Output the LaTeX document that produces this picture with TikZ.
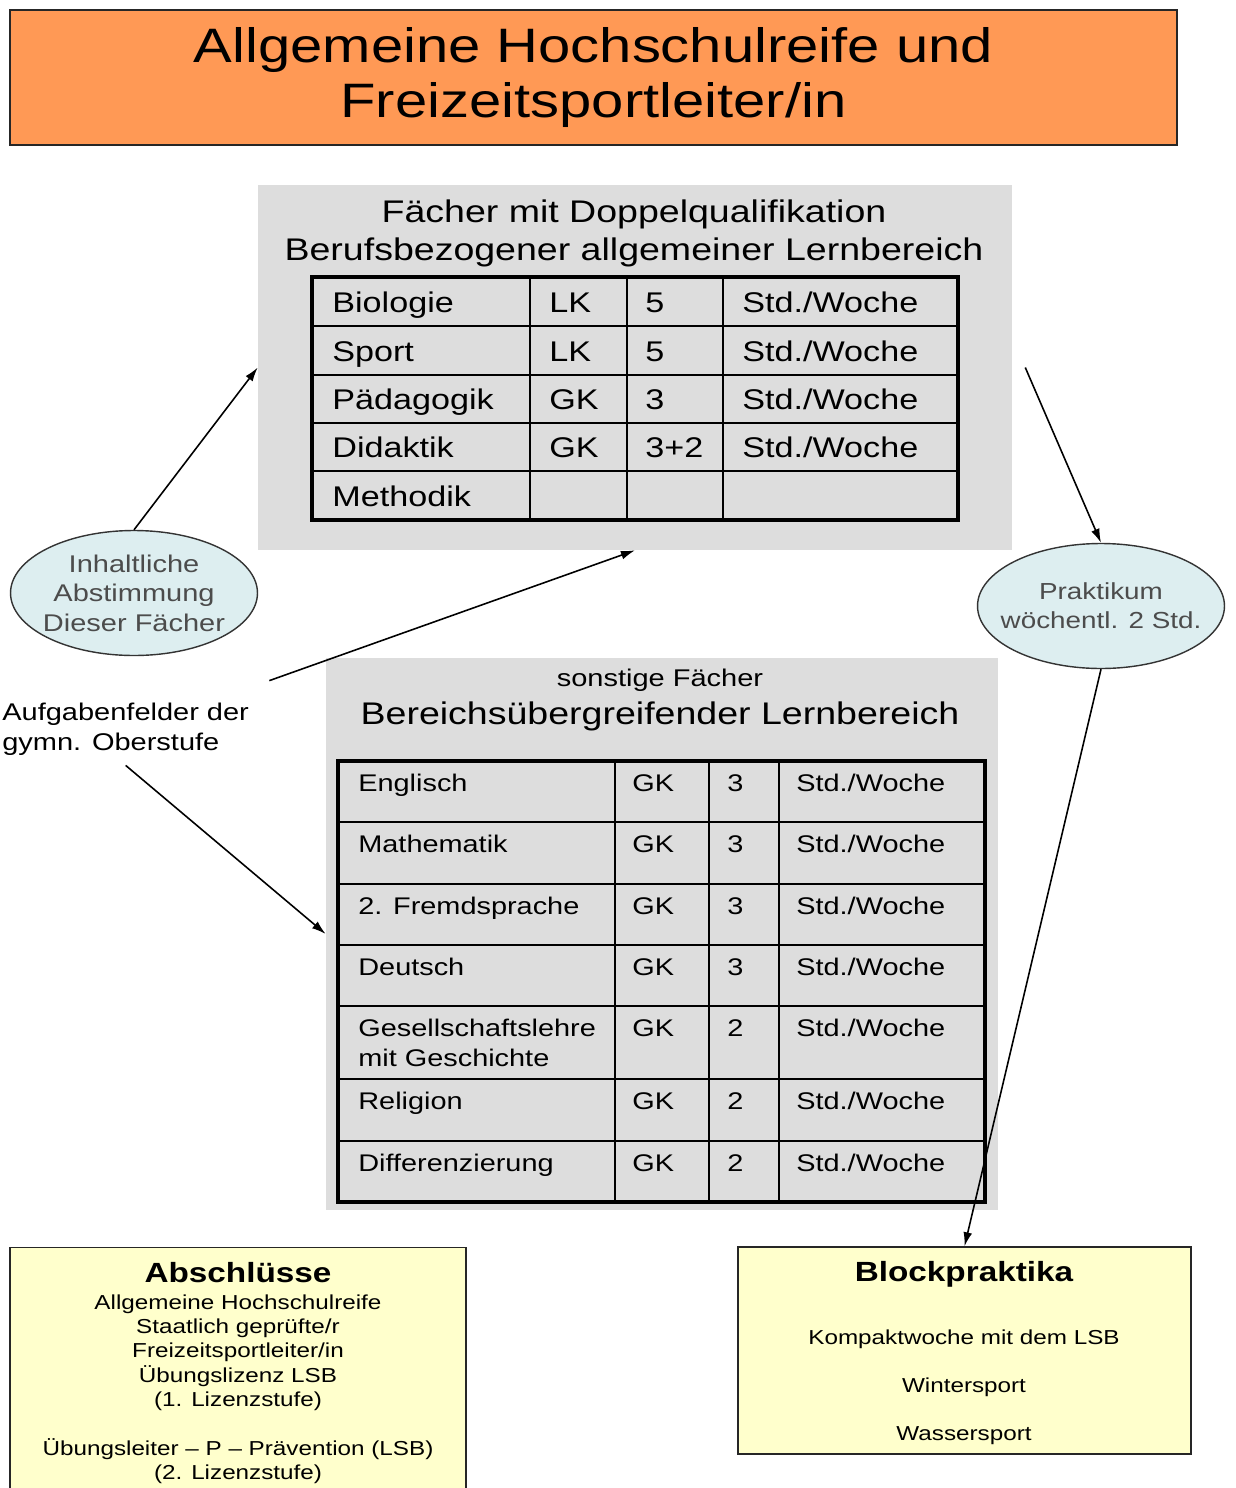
\documentclass[tikz,border=0pt]{standalone}
\usepackage{fontspec}
\setmainfont[FakeStretch=1.2]{Liberation Sans}
\usepackage{xcolor}
\usetikzlibrary{arrows.meta,positioning,shapes.geometric}
\definecolor{titelorange}{RGB}{255,153,85}
\definecolor{grau}{RGB}{221,221,221}
\definecolor{hellblau}{RGB}{221,238,240}
\definecolor{hellgelb}{RGB}{255,255,204}

\begin{document}
\begin{tikzpicture}[
  x=0.02cm, y=-0.02cm,
  >={Latex[length=8pt,width=5pt]},
  every node/.style={inner sep=0pt},
  pfeil/.style={->, line width=0.9pt},
  feld/.style={fill=grau, draw=none},
  wolke/.style={ellipse, draw=black!80, line width=0.8pt, fill=hellblau, text=black!70, align=center, minimum width=4.94cm, minimum height=2.5cm},
  gelb/.style={draw=black!85, line width=0.8pt, fill=hellgelb},
  zelle/.style={anchor=base west, font=\fontsize{16.2}{19}\selectfont},
  zelleb/.style={anchor=base west, font=\fontsize{13.7}{17}\selectfont},
  klein/.style={font=\fontsize{13.75}{16.8}\selectfont},
  fett/.style={font=\bfseries\fontsize{15.8}{18}\selectfont}
]
\path[use as bounding box, clip] (0,0) rectangle (1235,1488);

% Titel
\node[draw=black!85, line width=0.9pt, fill=titelorange, minimum width=23.34cm, minimum height=2.7cm,
  align=center, font=\fontsize{27.5}{31.3}\selectfont] (titel) at (593.5,77.5)
  {Allgemeine Hochschulreife und\\Freizeitsportleiter/in};

% Faecher mit Doppelqualifikation
\node[feld, minimum width=15.08cm, minimum height=7.3cm] (oben) at (635,367.5) {};
\node[align=center, font=\fontsize{17.8}{21.6}\selectfont] (obentitel) at (634,233)
  {Fächer mit Doppelqualifikation\\Berufsbezogener allgemeiner Lernbereich};

\foreach \y in {326,375,423,471} \draw[line width=1.1pt] (312,\y) -- (958,\y);
\foreach \x in {530,627,723} \draw[line width=1.1pt] (\x,277) -- (\x,520);
\draw[line width=2.4pt] (312,277) rectangle (958,520);

\foreach \y/\fach/\kurs/\std [count=\i] in {312/Biologie/LK/5, 361/Sport/LK/5, 409/Pädagogik/GK/3, 457/Didaktik/GK/3+2} {
  \node[zelle] (a\i) at (332,\y) {\fach};
  \node[zelle] (b\i) at (549,\y) {\kurs};
  \node[zelle] (c\i) at (645,\y) {\std};
  \node[zelle] (d\i) at (742,\y) {Std./Woche};
}
\node[zelle] (a5) at (332,506) {Methodik};

% sonstige Faecher
\node[feld, minimum width=13.44cm, minimum height=11.04cm] (unten) at (662,934) {};
\node[klein] (untenklein) at (660,680) {sonstige Fächer};
\node[font=\fontsize{17.8}{21}\selectfont] (untentitel) at (660,716) {Bereichsübergreifender Lernbereich};

\foreach \y in {822,884,945,1006,1079,1141} \draw[line width=1.1pt] (338,\y) -- (985,\y);
\foreach \x in {615,709,779} \draw[line width=1.1pt] (\x,761) -- (\x,1202);
\draw[line width=2.4pt] (338,761) rectangle (985,1202);

\foreach \y/\fach/\std [count=\i] in {791/Englisch/3, 852/Mathematik/3, 914/2. Fremdsprache/3, 975/Deutsch/3,
    1036/Gesellschaftslehre/2, 1109/Religion/2, 1171/Differenzierung/2} {
  \node[zelleb] (e\i) at (358,\y) {\fach};
  \node[zelleb] (f\i) at (632,\y) {GK};
  \node[zelleb] (g\i) at (727,\y) {\std};
  \node[zelleb] (h\i) at (796,\y) {Std./Woche};
}
\node[zelleb] (e5b) at (358,1066) {mit Geschichte};

% Ellipsen und Beschriftung
\node[wolke, klein, inner xsep=-3pt] (inhalt) at (134,593) {Inhaltliche\\Abstimmung\\Dieser Fächer};
\node[wolke, inner xsep=-8.5pt, font=\fontsize{13.2}{16.5}\selectfont] (prak) at (1101,606) {Praktikum\\wöchentl. 2 Std.};
\node[klein, align=left, anchor=west] (aufg) at (2,729) {Aufgabenfelder der\\gymn. Oberstufe};

% Abschluesse und Blockpraktika
\node[gelb, minimum width=9.12cm, minimum height=5.4cm, anchor=north] (abschl) at (238,1247) {};
\node[fett] (abschltitel) at (238,1273) {Abschlüsse};
\node[align=center, anchor=north, font=\fontsize{11.5}{13.9}\selectfont] (abschltext) at (238,1294)
  {Allgemeine Hochschulreife\\Staatlich geprüfte/r\\Freizeitsportleiter/in\\Übungslizenz LSB\\(1. Lizenzstufe)\\[13.9pt]
   Übungsleiter -- P -- Prävention (LSB)\\(2. Lizenzstufe)};

\node[gelb, minimum width=9.06cm, minimum height=4.14cm] (block) at (964.5,1350.5) {};
\node[fett] (blocktitel) at (964,1274) {Blockpraktika};
\node[align=center, anchor=north, font=\fontsize{11.5}{13.9}\selectfont] (blocktext) at (964,1329)
  {Kompaktwoche mit dem LSB\\[13.7pt]Wintersport\\[13.7pt]Wassersport};

% Pfeile
\draw[pfeil] (inhalt.north) -- (oben.west);
\draw[pfeil] ([shift={(20,-22)}]aufg.north east) -- (oben.south);
\draw[pfeil] ([shift={(0,10)}]aufg.south) -- (unten.west);
\draw[pfeil] ([shift={(13,0)}]oben.east) -- (prak.north);
\draw[pfeil] (prak.south) -- (block.north);
\end{tikzpicture}
\end{document}
